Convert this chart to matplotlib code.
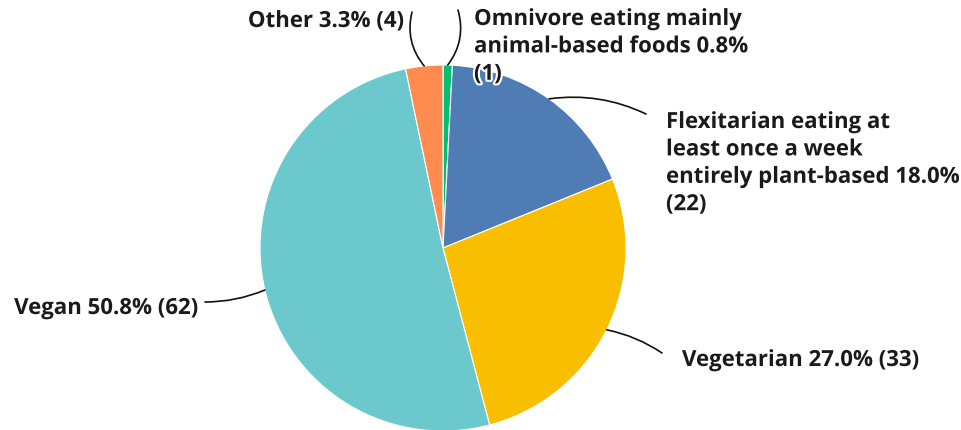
import numpy as np
import matplotlib.pyplot as plt
import matplotlib.patheffects as pe

# data
labels = ["Omnivore eating mainly\nanimal-based foods 0.8%\n(1)",
          "Flexitarian eating at\nleast once a week\nentirely plant-based 18.0%\n(22)",
          "Vegetarian 27.0% (33)",
          "Vegan 50.8% (62)",
          "Other 3.3% (4)"]
counts = [1, 22, 33, 62, 4]
colors = ["#00BF6F", "#507CB6", "#F9BE00", "#6BC8CD", "#FF8B4F"]

W, H = 962, 430
fig = plt.figure(figsize=(W / 100, H / 100), dpi=100)
ax = fig.add_axes([0, 0, 1, 1])

cx, cy, r = 443, H - 248, 183
wedges, _ = ax.pie(counts, colors=colors, startangle=90, counterclock=False,
                   center=(cx, cy), radius=r, frame=True,
                   wedgeprops=dict(edgecolor="white", linewidth=0.8))
ax.set_xlim(0, W)
ax.set_ylim(0, H)
ax.set_aspect("equal")
ax.axis("off")

# label placement (pixel coords from top-left): x, y_top, ha, leader end, curvature
layout = [
    (474, 9, "left", (458, 10), -0.25),
    (666, 112, "left", (646, 114), 0.15),
    (682, 350, "left", (662, 353), 0.1),
    (198, 298, "right", (205, 302), 0.1),
    (404, 11, "right", (412, 12), 0.25),
]

font = dict(family=["Open Sans", "DejaVu Sans"], fontweight="bold", fontsize=16,
            color="#1a1a1a")
for w, lab, (tx, ty, ha, end, rad) in zip(wedges, labels, layout):
    ang = np.deg2rad((w.theta1 + w.theta2) / 2)
    ex, ey = cx + r * np.cos(ang), cy + r * np.sin(ang)
    ax.annotate("", xy=(ex, ey), xytext=(end[0], H - end[1]),
                arrowprops=dict(arrowstyle="-", color="#111111", lw=1.2,
                                shrinkA=0, shrinkB=0,
                                connectionstyle=f"arc3,rad={rad}"))
    t = ax.text(tx, H - ty, lab, ha=ha, va="top", linespacing=1.4, **font)
    t.set_path_effects([pe.withStroke(linewidth=3, foreground="white")])

fig.savefig("out.png", dpi=100)
